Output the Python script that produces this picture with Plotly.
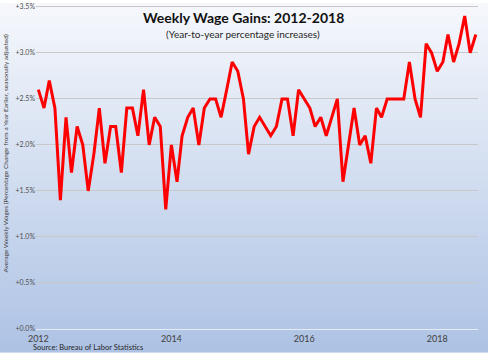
import base64
import pandas as pd
import plotly.graph_objects as go

# Monthly year-over-year change in average weekly wages (%), Jan 2012 - Aug 2018
values_2012 = [2.6, 2.4, 2.7, 2.4, 1.4, 2.3, 1.7, 2.2, 2.0, 1.5, 1.9, 2.4]
values_2013 = [1.8, 2.2, 2.2, 1.7, 2.4, 2.4, 2.1, 2.6, 2.0, 2.3, 2.2, 1.3]
values_2014 = [2.0, 1.6, 2.1, 2.3, 2.4, 2.0, 2.4, 2.5, 2.5, 2.3, 2.6, 2.9]
values_2015 = [2.8, 2.5, 1.9, 2.2, 2.3, 2.2, 2.1, 2.2, 2.5, 2.5, 2.1, 2.6]
values_2016 = [2.5, 2.4, 2.2, 2.3, 2.1, 2.3, 2.5, 1.6, 2.0, 2.4, 2.0, 2.1]
values_2017 = [1.8, 2.4, 2.3, 2.5, 2.5, 2.5, 2.5, 2.9, 2.5, 2.3, 3.1, 3.0]
values_2018 = [2.8, 2.9, 3.2, 2.9, 3.1, 3.4, 3.0, 3.2]

values = values_2012 + values_2013 + values_2014 + values_2015 + values_2016 + values_2017 + values_2018
dates = pd.date_range("2012-01-01", periods=len(values), freq="MS")

x_tick_vals = ["2012-01-01", "2014-01-01", "2016-01-01", "2018-01-01"]
x_tick_text = ["2012", "2014", "2016", "2018"]
y_tick_vals = [0.0, 0.5, 1.0, 1.5, 2.0, 2.5, 3.0, 3.5]
y_tick_text = ["+%.1f%%" % v for v in y_tick_vals]

title = "Weekly Wage Gains: 2012-2018"
subtitle = "(Year-to-year percentage increases)"
y_title = "Average Weekly Wages (Percentage Change from a Year Earlier, seasonally adjusted)"
source = "Source: Bureau of Labor Statistics"

W, H = 488, 353
L, R, T, B = 36, 10, 2, 24
pw, ph = W - L - R, H - T - B
Y_MAX = 3.52

def py(pix):
    """paper y for a pixel row measured from the top of the page"""
    return (H - B - pix) / ph

svg = ('<svg xmlns="http://www.w3.org/2000/svg" width="100" height="100" preserveAspectRatio="none">'
       '<defs><linearGradient id="g" x1="0" y1="0" x2="0" y2="1">'
       '<stop offset="0" stop-color="#f6f8fc"/><stop offset="1" stop-color="#adc2e4"/>'
       '</linearGradient></defs><rect width="100" height="100" fill="url(#g)"/></svg>')
svg_uri = "data:image/svg+xml;base64," + base64.b64encode(svg.encode()).decode()

fig = go.Figure()
fig.add_trace(go.Scatter(x=dates, y=values, mode="lines",
                         line=dict(color="#ff0000", width=3), showlegend=False))

fig.update_layout(
    width=W, height=H,
    margin=dict(l=L, r=R, t=T, b=B),
    paper_bgcolor="rgba(0,0,0,0)",
    plot_bgcolor="rgba(0,0,0,0)",
    font=dict(family="Lato, Carlito, sans-serif", color="#404040"),
    images=[dict(source=svg_uri, xref="paper", yref="paper",
                 x=-L / pw, y=1 + T / ph, sizex=W / pw, sizey=H / ph,
                 sizing="stretch", layer="below", xanchor="left", yanchor="top")],
    xaxis=dict(type="date", range=["2011-12-19", "2018-08-13"],
               tickvals=x_tick_vals, ticktext=x_tick_text,
               showgrid=False, zeroline=False, showline=False, ticks="",
               ticklabelstandoff=3,
               tickfont=dict(size=9, color="#404040")),
    yaxis=dict(range=[0, Y_MAX], tickvals=y_tick_vals, ticktext=y_tick_text,
               showgrid=True, gridcolor="#c8c8c8", gridwidth=1,
               zeroline=True, zerolinecolor="#e6ecf6", zerolinewidth=1,
               showline=False, ticks="", ticklabeloverflow="allow",
               tickfont=dict(size=7, color="#505050")),
    annotations=[
        dict(text="<b>" + title + "</b>", xref="paper", yref="paper",
             x=(243 - L) / pw, y=py(15), showarrow=False,
             xanchor="center", yanchor="middle",
             font=dict(size=14, color="#111111")),
        dict(text=subtitle, xref="paper", yref="paper",
             x=(243 - L) / pw, y=py(31), showarrow=False,
             xanchor="center", yanchor="middle",
             font=dict(size=10, color="#262626")),
        dict(text=y_title, xref="paper", yref="paper",
             x=(6 - L) / pw, y=py(152), showarrow=False,
             textangle=-90, xanchor="center", yanchor="middle",
             font=dict(size=6.5, color="#404040")),
        dict(text=source, xref="paper", yref="paper",
             x=(31 - L) / pw, y=py(348), showarrow=False,
             xanchor="left", yanchor="middle",
             font=dict(size=7.5, color="#262626")),
    ],
)

fig.write_html("out.html")
